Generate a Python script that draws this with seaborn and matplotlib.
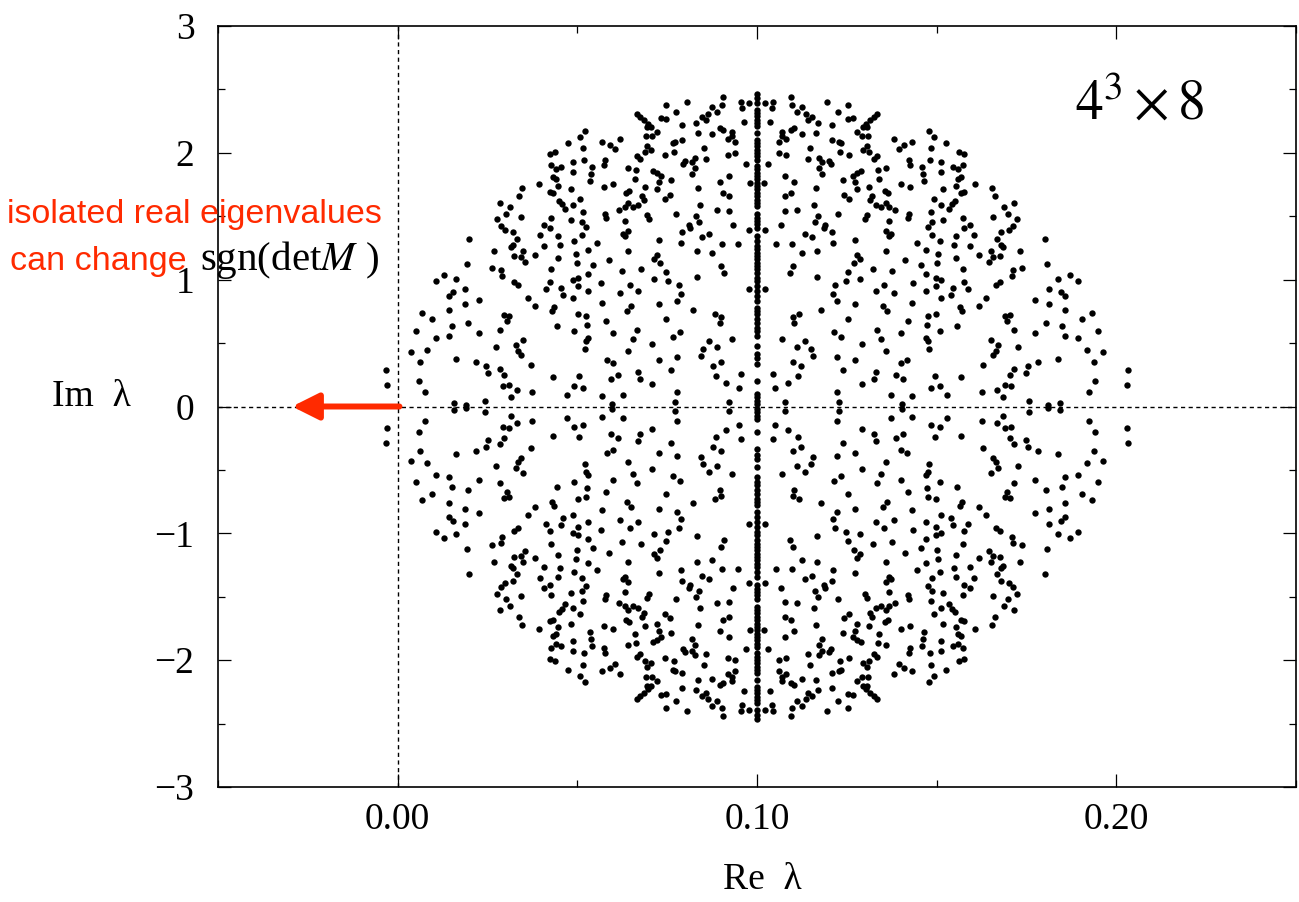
import numpy as np
import pandas as pd
import matplotlib
matplotlib.use("Agg")
import matplotlib.pyplot as plt
import seaborn as sns
from matplotlib.ticker import MultipleLocator

re_quarter = [
    0.0473, 0.0424, 0.0439, 0.0427, 0.0441, 0.0455, 0.0431, 0.0441, 0.0393, 0.0445,
    0.0346, 0.0424, 0.0433, 0.0339, 0.0450, 0.0457, 0.0465, 0.0285, 0.0313, 0.0302,
    0.0344, 0.0277, 0.0427, 0.0288, 0.0298, 0.0406, 0.0425, 0.0322, 0.0395, 0.0445,
    0.0332, 0.0198, 0.0320, 0.0316, 0.0407, 0.0451,
    0.0906, 0.0805, 0.0746, 0.0956, 0.0978, 0.0959, 0.0902, 0.0876, 0.0890, 0.0865,
    0.0848, 0.0857, 0.0666, 0.0675, 0.0686, 0.0732, 0.0746, 0.0774, 0.0964, 0.0830,
    0.0791, 0.0697, 0.0705, 0.0693, 0.0723, 0.0707, 0.0691, 0.0897, 0.0904, 0.0930,
    0.0876, 0.0836, 0.0918, 0.0931, 0.0939, 0.0521, 0.0508, 0.0515, 0.0570, 0.0591,
    0.0606, 0.0619, 0.0693, 0.0705, 0.0689, 0.0767, 0.0772, 0.0790, 0.0769, 0.0744,
    0.0853, 0.0939, 0.0920, 0.0666, 0.0674, 0.0857, 0.0800, 0.0795, 0.0819, 0.0828,
    0.0578, 0.0575, 0.0489, 0.0519, 0.0541, 0.0538, 0.0535, 0.0489, 0.0640, 0.0663,
    0.0711, 0.0723, 0.0732, 0.0827, 0.0820, 0.0969, 0.0661, 0.0762, 0.0728, 0.0723,
    0.0922, 0.0896, 0.0598, 0.0575, 0.0687, 0.0644, 0.0635, 0.0836, 0.0904, 0.0922,
    0.0757, 0.0744, 0.0681, 0.0686, 0.0508, 0.0482, 0.0487, 0.0640, 0.0633, 0.0668,
    0.0654, 0.0615, 0.0842, 0.0888, 0.0922, 0.0981, 0.0576, 0.0581, 0.0694, 0.0700,
    0.0774, 0.0830, 0.0839, 0.0934, 0.0978, 0.0515, 0.0482, 0.0513, 0.0524, 0.0633,
    0.0811, 0.0814, 0.0791, 0.0626, 0.0633, 0.0640, 0.0728, 0.0848, 0.0867, 0.0513,
    0.0492, 0.0554, 0.0788, 0.0902, 0.0948,
    0.0267, 0.0348, 0.0325, 0.0344, 0.0353, 0.0382, 0.0447, 0.0193, 0.0263, 0.0288,
    0.0291, 0.0427, 0.0129, 0.0106, 0.0163, 0.0325, 0.0334, 0.0424, 0.0413, 0.0455,
    0.0459, 0.0188, 0.0154, 0.0143, 0.0225, 0.0186, 0.0364, 0.0382, 0.0144, 0.0067,
    0.0095, 0.0297, 0.0309, 0.0304, 0.0436, 0.0430, 0.0444, 0.0151, 0.0195, 0.0052,
    0.0225, 0.0285, 0.0142, 0.0106, 0.0348, 0.0330, 0.0334, 0.0344, 0.0038, 0.0081,
    0.0274, 0.0061, 0.0161, 0.0219, 0.0246, 0.0252, 0.0285, 0.0295, 0.0371, 0.0433,
    -0.0033, -0.0031, 0.0058, 0.0076, 0.0293, 0.0311, 0.0331, 0.0374, 0.0316, 0.0242,
    0.0158, 0.0189, 0.0471,
    0.0496, 0.0531, 0.0640, 0.0834, 0.0874, 0.0498, 0.0587, 0.0544, 0.0714, 0.0723,
    0.0730, 0.0746, 0.0677, 0.0623, 0.0531, 0.0489, 0.0503, 0.0501, 0.0566, 0.0646,
    0.0714, 0.0753, 0.0783, 0.0899, 0.0908, 0.0834, 0.0978, 0.0529, 0.0619, 0.0670,
    0.0489, 0.0569, 0.0649, 0.0637, 0.0726, 0.0776, 0.0788, 0.0822, 0.0882, 0.0899,
    0.0897, 0.0503, 0.0524, 0.0526, 0.0580, 0.0598, 0.0748, 0.0666, 0.0490, 0.0531,
    0.0524, 0.0521, 0.0654, 0.0707, 0.0765, 0.0786, 0.0867, 0.0850, 0.0888, 0.0844,
    0.0930, 0.0640, 0.0777, 0.0728, 0.0582, 0.0598, 0.0901, 0.0878, 0.0760, 0.0668,
    0.0612, 0.0594, 0.0675, 0.0506, 0.0490, 0.0517, 0.0707, 0.0885, 0.0955, 0.0913,
    0.0950, 0.0777, 0.0570, 0.0628, 0.0596, 0.0772, 0.0922,
]
im_quarter = [
    2.076, 1.990, 2.008, 1.908, 1.871, 1.892, 1.806, 1.795, 1.753, 1.735,
    1.719, 1.688, 1.682, 1.656, 1.617, 1.596, 1.559, 1.601, 1.575, 1.517,
    1.496, 1.478, 1.483, 1.425, 1.394, 1.433, 1.409, 1.373, 1.349, 1.341,
    1.320, 1.320, 1.276, 1.257, 1.268, 1.276,
    2.444, 2.404, 2.378, 2.399, 2.391, 2.352, 2.378, 2.365, 2.325, 2.307,
    2.286, 2.255, 2.307, 2.286, 2.260, 2.278, 2.265, 2.325, 2.241, 2.234,
    2.220, 2.226, 2.202, 2.207, 2.163, 2.136, 2.129, 2.199, 2.181, 2.168,
    2.147, 2.155, 2.108, 2.129, 2.084, 2.176, 2.123, 2.042, 2.089, 2.058,
    2.029, 2.108, 2.055, 2.024, 2.005, 2.076, 2.089, 2.102, 2.010, 1.982,
    2.037, 1.997, 1.979, 1.976, 1.950, 1.953, 1.937, 1.913, 1.924, 1.963,
    1.940, 1.906, 1.927, 1.940, 1.887, 1.835, 1.774, 1.845, 1.879, 1.861,
    1.853, 1.840, 1.819, 1.879, 1.832, 1.913, 1.795, 1.787, 1.769, 1.717,
    1.819, 1.769, 1.756, 1.730, 1.727, 1.696, 1.682, 1.722, 1.682, 1.656,
    1.669, 1.638, 1.661, 1.630, 1.638, 1.714, 1.585, 1.604, 1.572, 1.591,
    1.570, 1.551, 1.591, 1.551, 1.538, 1.761, 1.517, 1.486, 1.512, 1.478,
    1.517, 1.499, 1.454, 1.433, 1.388, 1.530, 1.472, 1.451, 1.415, 1.459,
    1.433, 1.407, 1.375, 1.362, 1.341, 1.381, 1.315, 1.336, 1.360, 1.349,
    1.302, 1.289, 1.289, 1.281, 1.281,
    1.223, 1.223, 1.189, 1.178, 1.136, 1.197, 1.171, 1.126, 1.092, 1.079,
    1.026, 1.084, 1.039, 0.992, 1.008, 0.979, 0.961, 0.982, 0.927, 0.934,
    0.877, 0.927, 0.900, 0.869, 0.837, 0.811, 0.856, 0.790, 0.764, 0.738,
    0.690, 0.724, 0.711, 0.677, 0.782, 0.751, 0.633, 0.638, 0.659, 0.593,
    0.580, 0.606, 0.559, 0.538, 0.528, 0.488, 0.436, 0.404, 0.428, 0.449,
    0.470, 0.352, 0.378, 0.352, 0.318, 0.265, 0.297, 0.249, 0.325, 0.234,
    0.286, 0.168, 0.202, 0.115, 0.165, 0.168, 0.134, 0.113, 0.076, 0.047,
    0.029, 0.008, 0.094,
    1.205, 1.236, 1.228, 1.228, 1.210, 1.131, 1.152, 1.115, 1.163, 1.192,
    1.131, 1.060, 1.084, 1.066, 1.047, 1.000, 1.013, 0.953, 0.974, 0.958,
    1.005, 0.992, 0.955, 1.105, 1.052, 1.018, 0.927, 0.908, 0.895, 0.913,
    0.856, 0.816, 0.790, 0.751, 0.808, 0.835, 0.887, 0.764, 0.732, 0.706,
    0.659, 0.732, 0.711, 0.646, 0.672, 0.583, 0.693, 0.604, 0.593, 0.541,
    0.514, 0.454, 0.533, 0.496, 0.549, 0.585, 0.514, 0.454, 0.470, 0.402,
    0.533, 0.438, 0.388, 0.365, 0.365, 0.344, 0.352, 0.318, 0.286, 0.273,
    0.252, 0.220, 0.213, 0.239, 0.165, 0.147, 0.181, 0.244, 0.260, 0.186,
    0.147, 0.115, 0.081, 0.089, 0.016, 0.034, 0.034,
]
# eigenvalues sitting on the line Re = 0.1 (upper half)
re_center = 0.1
im_center = [
    2.465, 2.433, 2.394, 2.341, 2.315, 2.289, 2.262, 2.236, 2.210, 2.157,
    2.105, 2.079, 2.053, 2.026, 2.000, 1.974, 1.947, 1.895, 1.869, 1.843,
    1.816, 1.790, 1.764, 1.738, 1.711, 1.685, 1.659, 1.632, 1.606, 1.580,
    1.514, 1.488, 1.462, 1.436, 1.409, 1.344, 1.304, 1.265, 1.239, 1.213,
    1.186, 1.160, 1.134, 1.108, 1.081, 1.055, 1.016, 0.990, 0.950, 0.911,
    0.871, 0.832, 0.780, 0.754, 0.727, 0.688, 0.661, 0.622, 0.596, 0.557,
    0.478, 0.412, 0.386, 0.333, 0.202, 0.097, 0.071, 0.045, 0.018,
]

x_ticks = [0.0, 0.1, 0.2]
x_ticklabels = ["0.00", "0.10", "0.20"]
y_ticks = [-3, -2, -1, 0, 1, 2, 3]
red = "#ff2a00"

# the spectrum is symmetric under lambda -> conj(lambda) and Re -> 0.2 - Re
rq = np.array(re_quarter)
iq = np.array(im_quarter)
ic = np.array(im_center)
df = pd.DataFrame({
    "re": np.concatenate([rq, 2 * re_center - rq, rq, 2 * re_center - rq,
                          np.full(2 * len(ic), re_center)]),
    "im": np.concatenate([iq, iq, -iq, -iq, ic, -ic]),
})

sns.set_style("ticks")
plt.rcParams["font.family"] = ["Liberation Serif", "DejaVu Serif"]
plt.rcParams["mathtext.fontset"] = "stix"
plt.rcParams["text.color"] = "black"
plt.rcParams["xtick.color"] = "black"
plt.rcParams["ytick.color"] = "black"

fig = plt.figure(figsize=(12.99, 9.02), dpi=100)
W, H = 1299, 902
ax = fig.add_axes([218 / W, 1 - 787 / H, (1296 - 218) / W, (787 - 26) / H])

ax.axhline(0, color="black", lw=1.0, ls=(0, (3, 2.5)), zorder=1)
ax.axvline(0, color="black", lw=1.0, ls=(0, (3, 2.5)), zorder=1)

sns.scatterplot(data=df, x="re", y="im", ax=ax, color="black", s=21,
                linewidth=0, zorder=3)

ax.set_xlim(-0.05, 0.25)
ax.set_ylim(-3, 3)
ax.set_xticks(x_ticks)
ax.set_xticklabels(x_ticklabels)
ax.set_yticks(y_ticks)
ax.xaxis.set_minor_locator(MultipleLocator(0.05))
ax.yaxis.set_minor_locator(MultipleLocator(0.5))
ax.set_xlabel("")
ax.set_ylabel("")
ax.tick_params(which="both", direction="in", top=True, right=True,
               width=0.9, color="black", labelcolor="black")
ax.tick_params(which="major", length=9.5, labelsize=27)
ax.tick_params(axis="y", which="major", pad=17)
ax.tick_params(axis="x", which="major", pad=11)
ax.tick_params(which="minor", length=5)
for sp in ax.spines.values():
    sp.set_visible(True)
    sp.set_color("black")
    sp.set_linewidth(1.2)

# axis labels
fig.text(52 / W, 1 - 406 / H, "Im  λ", fontsize=27, ha="left", va="baseline")
fig.text(762 / W, 1 - 889 / H, "Re  λ", fontsize=27, ha="center", va="baseline")

# lattice size
fig.text(1075 / W, 1 - 120 / H, r"$4^3\times 8$", fontsize=40,
         ha="left", va="baseline")

# arrow and remark
ax.annotate("", xy=(-0.0294, 0), xytext=(0.0005, 0),
            arrowprops=dict(arrowstyle="-|>,head_length=16,head_width=8",
                            mutation_scale=1, color=red, lw=4.3,
                            shrinkA=0, shrinkB=0),
            annotation_clip=False, zorder=5)
fig.text(194 / W, 1 - 223 / H, "isolated real eigenvalues", color=red,
         family=["Liberation Sans"], fontsize=24.5, ha="center", va="baseline",
         zorder=6)
fig.text(10 / W, 1 - 270 / H, "can change", color=red,
         family=["Liberation Sans"], fontsize=24.5, ha="left", va="baseline",
         zorder=6)
fig.text(200 / W, 1 - 270 / H, r"sgn(det$M$ )", color="black", fontsize=29.5,
         ha="left", va="baseline", zorder=6)

fig.savefig("out.png", dpi=100)
